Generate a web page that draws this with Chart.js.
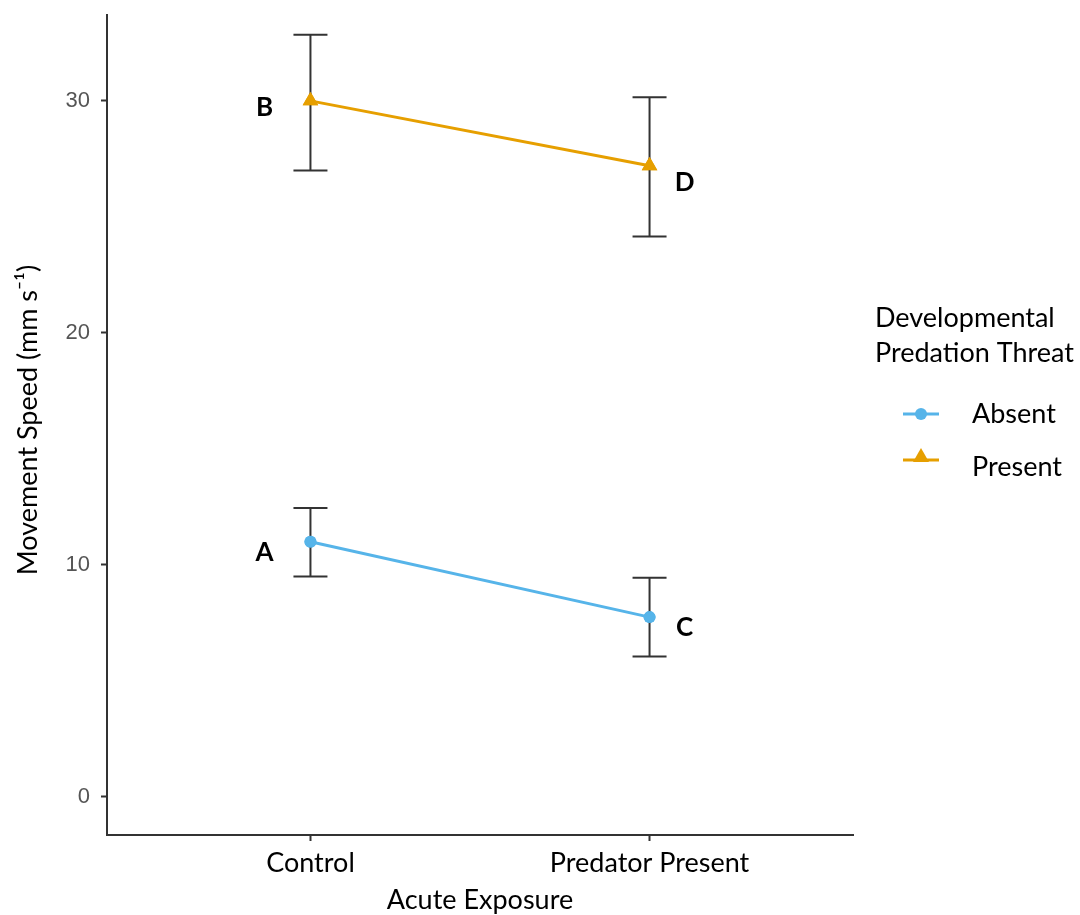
<!DOCTYPE html>
<html>
<head>
<meta charset="utf-8">
<script src="https://cdn.jsdelivr.net/npm/chart.js"></script>
<style>
  html, body { margin: 0; padding: 0; background: #fff; }
  #wrap { width: 1080px; height: 915px; }
</style>
</head>
<body>
<div id="wrap"><canvas id="line-chart" width="1080" height="915"></canvas></div>
<script>
// Data
var categories = ["Control", "Predator Present"];
var groups = ["Absent", "Present"];
var absentMean = [11.0, 7.75];
var absentLow = [9.5, 6.05];
var absentHigh = [12.45, 9.45];
var presentMean = [30.0, 27.2];
var presentLow = [27.0, 24.15];
var presentHigh = [32.85, 30.15];
var letters = [["A", "C"], ["B", "D"]];
var yTicks = [0, 10, 20, 30];

var colors = ['#56B4E9', '#E69F00'];
var labelFont = "Lato, 'Open Sans', sans-serif";

function toPoints(vals) {
  return vals.map(function (v, i) { return { x: i, y: v }; });
}

// error bars + letters
var errorBars = {
  id: 'errorBars',
  afterDatasetsDraw: function (chart) {
    var ctx = chart.ctx;
    var xs = chart.scales.x, ys = chart.scales.y;
    var sets = [[absentLow, absentHigh, absentMean], [presentLow, presentHigh, presentMean]];
    ctx.save();
    ctx.strokeStyle = '#333333';
    ctx.lineWidth = 2;
    sets.forEach(function (s) {
      for (var i = 0; i < categories.length; i++) {
        var px = xs.getPixelForValue(i);
        var lo = ys.getPixelForValue(s[0][i]);
        var hi = ys.getPixelForValue(s[1][i]);
        ctx.beginPath();
        ctx.moveTo(px, lo); ctx.lineTo(px, hi);
        ctx.moveTo(px - 17, lo); ctx.lineTo(px + 17, lo);
        ctx.moveTo(px - 17, hi); ctx.lineTo(px + 17, hi);
        ctx.stroke();
      }
    });
    ctx.restore();
  },
  afterDraw: function (chart) {
    var ctx = chart.ctx;
    var xs = chart.scales.x, ys = chart.scales.y;
    var means = [absentMean, presentMean];
    ctx.save();
    // redraw points on top of error bars
    chart.data.datasets.forEach(function (ds, d) {
      chart.getDatasetMeta(d).data.forEach(function (el) { el.draw(ctx, chart.chartArea); });
    });
    ctx.fillStyle = '#000';
    ctx.font = "bold 26px " + labelFont;
    ctx.textAlign = 'center';
    ctx.textBaseline = 'middle';
    var dy = [[11, 10], [7, 17]];
    for (var g = 0; g < 2; g++) {
      for (var i = 0; i < categories.length; i++) {
        var px = xs.getPixelForValue(i) + (i === 0 ? -46 : 35);
        var py = ys.getPixelForValue(means[g][i]) + dy[g][i];
        ctx.fillText(letters[g][i], px, py);
      }
    }

    // axis titles
    ctx.font = "27px " + labelFont;
    ctx.textBaseline = 'middle';
    ctx.fillText("Acute Exposure", (chart.chartArea.left + chart.chartArea.right) / 2, 900);
    ctx.save();
    ctx.translate(28, 420);
    ctx.rotate(-Math.PI / 2);
    ctx.fillText("Movement Speed (mm s\u207B\u00B9)", 0, 0);
    ctx.restore();

    // legend
    ctx.textAlign = 'left';
    ctx.fillText("Developmental", 875, 318);
    ctx.fillText("Predation Threat", 875, 353);
    var ly = [414, 467];
    for (var k = 0; k < groups.length; k++) {
      var lineY = ly[k] - (k ? 7 : 0);
      ctx.strokeStyle = colors[k];
      ctx.lineWidth = 3;
      ctx.beginPath();
      ctx.moveTo(903, lineY);
      ctx.lineTo(939, lineY);
      ctx.stroke();
      ctx.fillStyle = colors[k];
      ctx.beginPath();
      if (k === 0) {
        ctx.arc(921, ly[k], 6, 0, Math.PI * 2);
      } else {
        ctx.moveTo(921, lineY - 12); ctx.lineTo(929, lineY + 2); ctx.lineTo(913, lineY + 2); ctx.closePath();
      }
      ctx.fill();
      ctx.fillStyle = '#000';
      ctx.fillText(groups[k], 972, ly[k]);
    }
    ctx.restore();
  }
};

new Chart(document.getElementById("line-chart"), {
  type: 'line',
  data: {
    datasets: [
      {
        label: groups[0],
        data: toPoints(absentMean),
        borderColor: colors[0],
        backgroundColor: colors[0],
        borderWidth: 3,
        pointStyle: 'circle',
        pointRadius: 6,
        pointBorderWidth: 0
      },
      {
        label: groups[1],
        data: toPoints(presentMean),
        borderColor: colors[1],
        backgroundColor: colors[1],
        borderWidth: 3,
        pointStyle: 'triangle',
        pointRadius: 9,
        pointBorderWidth: 0
      }
    ]
  },
  options: {
    responsive: false,
    animation: false,
    layout: { padding: { left: 0, top: 15, right: 227, bottom: 0 } },
    plugins: { legend: { display: false }, tooltip: { enabled: false } },
    scales: {
      x: {
        type: 'linear',
        min: -0.6,
        max: 1.6,
        afterBuildTicks: function (scale) {
          scale.ticks = categories.map(function (c, i) { return { value: i }; });
        },
        afterFit: function (scale) {
          scale.height = 80;
          scale.paddingLeft = 0; scale.paddingRight = 0;
        },
        ticks: {
          callback: function (v) { return categories[v]; },
          color: '#000',
          font: { family: labelFont, size: 27 },
          padding: 6,
          maxRotation: 0
        },
        grid: { drawOnChartArea: false, drawTicks: true, tickLength: 6, color: '#333333', tickWidth: 2 },
        border: { display: true, color: '#333333', width: 2 }
      },
      y: {
        type: 'linear',
        min: -1.64,
        max: 33.7,
        afterBuildTicks: function (scale) {
          scale.ticks = yTicks.map(function (v) { return { value: v }; });
        },
        afterFit: function (scale) {
          scale.width = 107;
          scale.paddingTop = 0; scale.paddingBottom = 0;
        },
        ticks: {
          color: '#555555',
          font: { family: "'Liberation Sans', Arial, sans-serif", size: 22 },
          padding: 11
        },
        grid: { drawOnChartArea: false, drawTicks: true, tickLength: 6, color: '#333333', tickWidth: 2 },
        border: { display: true, color: '#333333', width: 2 }
      }
    }
  },
  plugins: [errorBars]
});
</script>
</body>
</html>
